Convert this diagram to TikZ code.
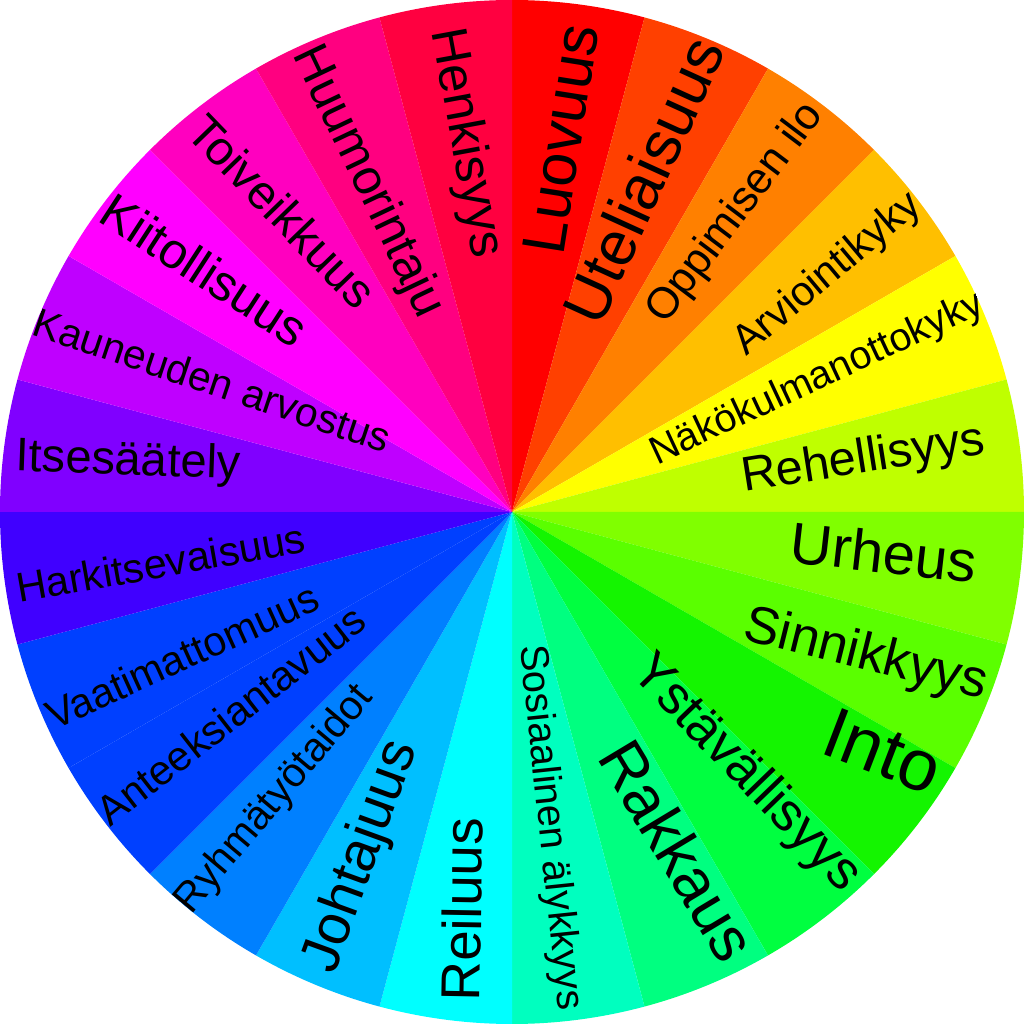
\documentclass[tikz,border=0pt]{standalone}
\usepackage{fontspec}
\setmainfont{Liberation Sans}
\usetikzlibrary{calc}
\pgfdeclarelayer{bg}
\pgfsetlayers{bg,main}

\begin{document}
\begin{tikzpicture}[
  trait/.style={inner sep=0pt, text height=0.716em, text depth=0pt, text=black},
  rim/.style={radius=5.12}
]
\useasboundingbox (0,0) rectangle (10.24,10.24);
\coordinate (c) at (5.12,5.12);
\clip (c) circle[rim];

% one 15 degree sector per strength, clockwise from the top
% name / colour / font size / label angle / label radius / text rotation
\foreach \i/\txt/\rgb/\fs/\ang/\r/\rot in {
  1/Luovuus/{255,0,0}/17.4/81.3/3.76/81,
  2/Uteliaisuus/{255,64,0}/17.8/66.9/3.57/65.5,
  3/Oppimisen ilo/{255,128,0}/12.4/53.3/3.73/53,
  4/Arviointikyky/{255,191,0}/11.8/37.2/3.95/40,
  5/Näkökulmanottokyky/{255,255,0}/11.2/23.9/3.33/25,
  6/Rehellisyys/{191,255,0}/13.8/8.4/3.55/9,
  7/Urheus/{128,255,0}/16.5/-7.4/3.74/-6.5,
  8/Sinnikkyys/{90,255,0}/15.0/-22.3/3.82/-14,
  9/Into/{20,245,0}/20.5/-34.3/4.44/-21,
  10/Ystävällisyys/{0,255,64}/15.2/-48.5/3.51/-46,
  11/Rakkaus/{0,255,128}/17.8/-65.3/3.78/-59,
  12/Sosiaalinen älykkyys/{0,255,191}/11.3/-82.8/3.18/-84,
  13/Reiluus/{0,255,255}/15.6/-96.2/4.00/89,
  14/Johtajuus/{0,191,255}/16.1/-113.2/3.76/70,
  15/Ryhmätyötaidot/{0,128,255}/11.6/-129.8/3.73/50,
  16/Anteeksiantavuus/{0,64,255}/11.8/-143.8/3.47/38,
  17/Vaatimattomuus/{0,64,255}/11.7/-156.1/3.60/24.5,
  18/Harkitsevaisuus/{64,0,255}/11.8/-171.4/3.55/10,
  19/Itsesäätely/{128,0,255}/13.4/172.6/3.87/-2,
  20/Kauneuden arvostus/{191,0,255}/11.6/156.6/3.27/-18.5,
  21/Kiitollisuus/{255,0,255}/14.2/142.5/3.91/-33,
  22/Toiveikkuus/{255,0,191}/13.6/128/3.78/-46,
  23/Huumorintaju/{255,0,128}/14.1/113.7/3.60/-64.5,
  24/Henkisyys/{255,0,64}/14.5/97.3/3.72/-79.5} {
  \pgfmathsetmacro{\a}{90-15*\i}
  \pgfmathsetmacro{\b}{\a+15}
  \definecolor{sect\i}{RGB}{\rgb}
  \begin{pgfonlayer}{bg}
    \fill[sect\i] (c) -- ++(\a:5.12) arc[start angle=\a, end angle=\b, rim] -- cycle;
  \end{pgfonlayer}
  \node[trait, rotate=\rot, font=\fontsize{\fs}{\fs}\selectfont]
    (s\i) at ($(c)+(\ang:\r)$) {\txt};
}

\end{tikzpicture}
\end{document}
